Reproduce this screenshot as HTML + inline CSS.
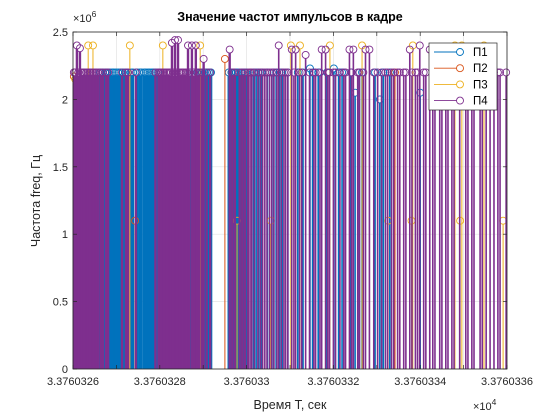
<!DOCTYPE html>
<html><head><meta charset="utf-8"><style>
html,body{margin:0;padding:0;background:#fff;}
svg{display:block;font-family:"Liberation Sans",sans-serif;}
</style></head><body>
<svg id="chart" width="560" height="416" viewBox="0 0 560 416">
<rect x="0" y="0" width="560" height="416" fill="#fff"/>
<g id="grid"></g>
<g id="plot"></g>
<rect x="73" y="32" width="434" height="337" fill="none" stroke="#262626" stroke-width="0.8"/>
<g id="ticks" font-size="11" fill="#262626"></g>
<text x="290" y="21" text-anchor="middle" font-size="12.5" font-weight="bold" fill="#000">Значение частот импульсов в кадре</text>
<text x="73" y="22" font-size="11" fill="#262626">×10<tspan dy="-5" font-size="8.5">6</tspan></text>
<text x="473" y="410" font-size="11" fill="#262626">×10<tspan dy="-5" font-size="8.5">4</tspan></text>
<text x="290" y="409" text-anchor="middle" font-size="12.5" fill="#262626">Время T, сек</text>
<text transform="translate(40,201) rotate(-90)" text-anchor="middle" font-size="12.5" fill="#262626">Частота freq, Гц</text>
<g id="legend"></g>
</svg>
<script>
// time offsets in ms after 33760.326 s; values in units of 1e6 Hz
const p1T = [0.062,0.074,0.085,0.094,0.104,0.120,0.133,0.154,0.164,0.173,0.182,0.191,0.270,0.293,0.309,0.318,0.371,0.380,0.394,0.422,0.435,0.468,0.482,0.518,0.546,0.565,0.601,0.620,0.650,0.666,0.696,0.707,0.800];
const p1V = [2.2,2.2,2.2,2.2,2.2,2.2,2.2,2.2,2.2,2.2,2.2,2.2,2.2,2.2,2.2,2.2,2.2,2.2,2.2,2.2,2.2,2.2,2.2,2.2,2.23,2.2,2.23,2.2,2.05,2.2,2.2,2.0,2.05];
const p1bT = [0.068,0.079,0.090,0.099,0.109,0.115,0.126,0.138,0.148,0.158,0.168,0.177,0.186,0.196,0.278,0.287,0.298,0.304,0.313,0.359,0.365,0.376,0.388,0.399,0.416,0.428,0.448,0.462,0.476,0.495,0.530,0.552,0.585,0.612,0.640,0.660,0.715,0.730];
const p1bV = [2.2,2.2,2.2,2.2,2.2,2.2,2.2,2.2,2.2,2.2, 2.2,2.2,2.2,2.2,2.2,2.2,2.2,2.2,2.2,2.2, 2.2,2.2,2.2,2.2,2.2,2.2,2.2,2.2,2.2,2.2, 2.2,2.2,2.2,2.2,2.2,2.2,2.2,2.2];
const p2T = [0.002,0.143,0.350,0.408,0.742,0.938];
const p2V = [2.17,1.1,2.3,2.2,2.2,2.2];
const p3T = [0.005,0.035,0.046,0.131,0.207,0.293,0.378,0.456,0.502,0.523,0.592,0.666,0.726,0.780,0.783,0.892,0.880,0.896,0.947,0.991];
const p3V = [2.15,2.4,2.4,2.4,2.4,2.4,1.1,1.1,2.4,2.4,2.4,2.4,1.1,1.1,2.4,1.1,2.4,2.4,2.4,1.1];
const p4T = [0.002,0.009,0.016,0.023,0.030,0.037,0.044,0.051,0.058,0.069,0.081,0.113,0.127,0.145,0.200,0.207,0.214,0.221,0.228,0.235,0.242,0.249,0.255,0.265,0.274,0.283,0.301,0.361,0.384,0.403,0.412,0.426,0.442,0.458,0.474,0.490,0.504,0.513,0.522,0.536,0.559,0.573,0.582,0.591,0.605,0.628,0.637,0.646,0.656,0.674,0.683,0.702,0.720,0.734,0.748,0.762,0.776,0.789,0.799,0.808,0.822,0.829,0.845,0.859,0.873,0.891,0.905,0.919,0.938,0.952,0.970,0.984,0.998];
const p4V = [2.2,2.4,2.38,2.2,2.2,2.2,2.2,2.2,2.2,2.2,2.2,2.2,2.2,2.2,2.2,2.2,2.2,2.2,2.42,2.44,2.44,2.2,2.2,2.4,2.4,2.4,2.3,2.37,2.2,2.2,2.2,2.2,2.2,2.2,2.4,2.2,2.37,2.37,2.2,2.33,2.2,2.37,2.37,2.2,2.2,2.2,2.37,2.37,2.2,2.37,2.37,2.2,2.2,2.2,2.2,2.2,2.37,2.2,2.4,2.2,2.37,2.37,2.2,2.2,2.2,2.2,2.2,2.2,2.2,2.2,2.2,2.2,2.2];
const p4bT = [0.005,0.012,0.019,0.026,0.033,0.040,0.047,0.054,0.064,0.076,0.122,0.190,0.197,0.203,0.210,0.217,0.224,0.231,0.238,0.245,0.252,0.259,0.262,0.268,0.279,0.286,0.290,0.296,0.308,0.316,0.367,0.373,0.390,0.396,0.408,0.418,0.432,0.437,0.447,0.453,0.463,0.470,0.480,0.486,0.495,0.509,0.527,0.545,0.555,0.569,0.587,0.600,0.615,0.624,0.642,0.660,0.669,0.693,0.711,0.725,0.739,0.753,0.767,0.781,0.794,0.813,0.834,0.850,0.864,0.878,0.910,0.924,0.943,0.961,0.979];
const p4bV = [2.2,2.2,2.2,2.2,2.2,2.2,2.2,2.2,2.2,2.2, 2.2,2.2,2.2,2.2,2.2,2.2,2.2,2.2,2.2,2.2, 2.2,2.2,2.2,2.2,2.2,2.2,2.2,2.2,2.2,2.2, 2.2,2.2,2.2,2.2,2.2,2.2,2.2,2.2,2.2,2.2, 2.2,2.2,2.2,2.2,2.2,2.2,2.2,2.2,2.2,2.2, 2.2,2.2,2.2,2.2,2.2,2.2,2.2,2.2,2.2,2.2, 2.2,2.2,2.2,2.2,2.2,2.2,2.2,2.2,2.2,2.2, 2.2,2.2,2.2,2.2,2.2];
const xTickLabels = ["3.3760326","3.3760328","3.376033","3.3760332","3.3760334","3.3760336"];
const yTickLabels = ["0","0.5","1","1.5","2","2.5"];

const X0=73,X1=507,Y0=369,Y1=32;
function xs(t){return X0+(t/1.0)*(X1-X0);}
function ys(v){return Y0-(v/2.5)*(Y0-Y1);}
const NS="http://www.w3.org/2000/svg";
function mk(tag,attrs,parent){const e=document.createElementNS(NS,tag);for(const k in attrs)e.setAttribute(k,attrs[k]);parent.appendChild(e);return e;}
const grid=document.getElementById('grid'),plot=document.getElementById('plot'),ticks=document.getElementById('ticks'),legend=document.getElementById('legend');
for(let i=0;i<=10;i++){const x=xs(i/10);
 const g=mk('line',{x1:x,x2:x,y1:Y1,y2:Y0,stroke:'#e3e3e3','stroke-width':0.7},grid);
 
 const t=mk('line',{x1:x,x2:x,y1:Y0,y2:Y0-4,stroke:'#262626','stroke-width':0.7},ticks);
 
 const t2=mk('line',{x1:x,x2:x,y1:Y1,y2:Y1+4,stroke:'#262626','stroke-width':0.7},ticks);
 }
xTickLabels.forEach((s,i)=>{const e=mk('text',{x:xs(i*0.2),y:385,'text-anchor':'middle'},ticks);e.textContent=s;
 });
yTickLabels.forEach((s,i)=>{const y=ys(i*0.5);
 const g=mk('line',{x1:X0,x2:X1,y1:y,y2:y,stroke:'#e3e3e3','stroke-width':0.7},grid);
 
 const t=mk('line',{x1:X0,x2:X0+4,y1:y,y2:y,stroke:'#262626','stroke-width':0.7},ticks);
 
 const t2=mk('line',{x1:X1,x2:X1-4,y1:y,y2:y,stroke:'#262626','stroke-width':0.7},ticks);
 
 const e=mk('text',{x:68,y:y+4,'text-anchor':'end'},ticks);e.textContent=s;
 });
const series=[
 {T:p1T.concat(p1bT),V:p1V.concat(p1bV),c:'#0072BD',wl:2.6,n:'П1'},
 {T:p2T,V:p2V,c:'#D95319',wl:1,n:'П2'},
 {T:p3T,V:p3V,c:'#EDB120',wl:1,n:'П3'},
 {T:p4T.concat(p4bT),V:p4V.concat(p4bV),c:'#7E2F8E',wl:2.4,n:'П4'}];
series.forEach((s,si)=>{
 const g=mk('g',{},plot);
 
 
 s.T.forEach((t,i)=>{const x=xs(t),y=ys(s.V[i]);
  const w=s.wl>1?(x<250?s.wl:1.6):1;
  const l=mk('line',{x1:x,x2:x,y1:Y0,y2:y+3.5,stroke:s.c,'stroke-width':w},g);
  
  
  const c=mk('circle',{cx:x,cy:y,r:3.5,fill:'none',stroke:s.c,'stroke-width':0.9},g);
  
  });
});
const lb=mk('rect',{x:429,y:43,width:68,height:67,fill:'#fff',stroke:'#262626','stroke-width':0.7},legend);


series.forEach((s,i)=>{const y=52+i*16.2;
 const g=mk('g',{},legend);
 
 
 mk('line',{x1:434,x2:460,y1:y,y2:y,stroke:s.c,'stroke-width':0.9},g);
 mk('circle',{cx:460,cy:y,r:3.5,fill:'#fff',stroke:s.c,'stroke-width':0.9},g);
 const t=mk('text',{x:473,y:y+4,'font-size':11.5,fill:'#000'},g);t.textContent=s.n;});
</script>
</body></html>
